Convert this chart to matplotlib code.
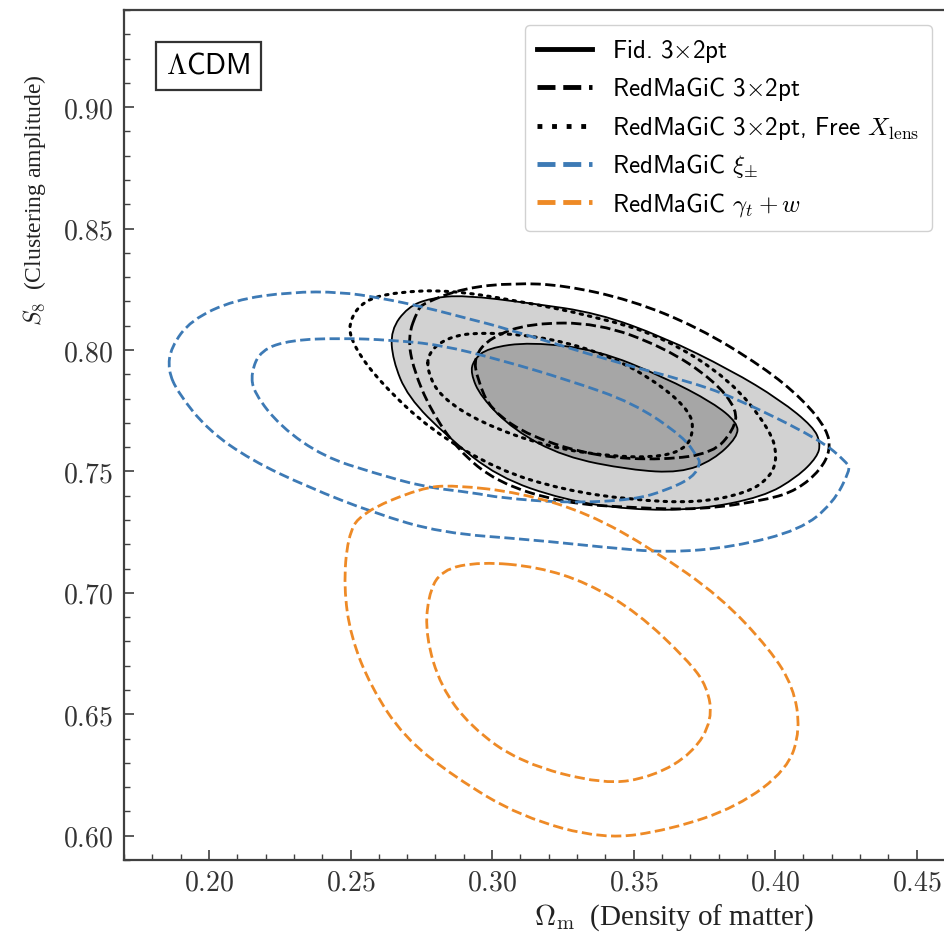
import numpy as np
import matplotlib
matplotlib.use("Agg")
import matplotlib.pyplot as plt
from matplotlib.lines import Line2D
from matplotlib.path import Path
from matplotlib.patches import PathPatch
from matplotlib.ticker import MultipleLocator

plt.rcParams['mathtext.fontset'] = 'cm'

# Contour outlines in (Omega_m, S8)
fid_outer_om = [0.2642, 0.2702, 0.2783, 0.2900, 0.3136, 0.3373, 0.3606, 0.3842, 0.4018, 0.4135, 0.4160,
                0.4149, 0.4078, 0.3958, 0.3725, 0.3489, 0.3253, 0.3020, 0.2843, 0.2702, 0.2649]
fid_outer_s8 = [0.8082, 0.8177, 0.8214, 0.8226, 0.8193, 0.8152, 0.8053, 0.7918, 0.7794, 0.7683, 0.7617,
                0.7560, 0.7477, 0.7395, 0.7342, 0.7342, 0.7383, 0.7477, 0.7642, 0.7807, 0.7959]
fid_inner_om = [0.2935, 0.2984, 0.3136, 0.3373, 0.3606, 0.3782, 0.3867, 0.3867, 0.3782, 0.3665, 0.3489,
                0.3253, 0.3076, 0.2960, 0.2924]
fid_inner_s8 = [0.7959, 0.8008, 0.8033, 0.8000, 0.7889, 0.7782, 0.7700, 0.7642, 0.7547, 0.7494, 0.7506,
                0.7560, 0.7671, 0.7807, 0.7905]

rm_outer_om = [0.2737, 0.2759, 0.2900, 0.3076, 0.3253, 0.3489, 0.3725, 0.3958, 0.4100, 0.4184, 0.4195,
               0.4160, 0.4078, 0.3972, 0.3736, 0.3500, 0.3253, 0.3020, 0.2879, 0.2783, 0.2723, 0.2702]
rm_outer_s8 = [0.8165, 0.8193, 0.8255, 0.8276, 0.8267, 0.8206, 0.8095, 0.7930, 0.7794, 0.7671, 0.7588,
               0.7506, 0.7424, 0.7383, 0.7342, 0.7350, 0.7370, 0.7453, 0.7588, 0.7753, 0.7918, 0.8053]
rm_inner_om = [0.2935, 0.2995, 0.3136, 0.3373, 0.3606, 0.3782, 0.3867, 0.3853, 0.3782, 0.3606, 0.3373,
               0.3136, 0.2995, 0.2949]
rm_inner_s8 = [0.7971, 0.8053, 0.8111, 0.8111, 0.8012, 0.7877, 0.7753, 0.7671, 0.7576, 0.7547, 0.7560,
               0.7642, 0.7753, 0.7877]

xl_outer_om = [0.2490, 0.2547, 0.2667, 0.2843, 0.3076, 0.3373, 0.3606, 0.3842, 0.3983, 0.4008, 0.3983,
               0.3902, 0.3725, 0.3489, 0.3253, 0.3020, 0.2783, 0.2607, 0.2512]
xl_outer_s8 = [0.8111, 0.8206, 0.8239, 0.8247, 0.8206, 0.8136, 0.8053, 0.7877, 0.7671, 0.7560, 0.7477,
               0.7412, 0.7370, 0.7383, 0.7424, 0.7506, 0.7671, 0.7864, 0.8012]
xl_inner_om = [0.2773, 0.2843, 0.2960, 0.3196, 0.3429, 0.3606, 0.3701, 0.3711, 0.3690, 0.3606, 0.3429,
               0.3196, 0.2960, 0.2819, 0.2773]
xl_inner_s8 = [0.7988, 0.8053, 0.8074, 0.8053, 0.7971, 0.7848, 0.7741, 0.7671, 0.7601, 0.7560, 0.7560,
               0.7601, 0.7700, 0.7807, 0.7905]

xi_outer_om = [0.1855, 0.1866, 0.1936, 0.2088, 0.2289, 0.2466, 0.2607, 0.2759, 0.2935, 0.3030, 0.3443,
               0.3676, 0.3853, 0.4160, 0.4255, 0.4265, 0.4205, 0.4089, 0.3853, 0.3620, 0.3383, 0.3147,
               0.2819, 0.2582, 0.2349, 0.2148, 0.1996, 0.1891]
xi_outer_s8 = [0.7918, 0.8012, 0.8123, 0.8206, 0.8239, 0.8239, 0.8214, 0.8177, 0.8123, 0.8095, 0.7947,
               0.7877, 0.7807, 0.7630, 0.7535, 0.7506, 0.7370, 0.7259, 0.7189, 0.7165, 0.7189, 0.7218,
               0.7247, 0.7329, 0.7436, 0.7547, 0.7671, 0.7823]
xi_inner_om = [0.2148, 0.2183, 0.2289, 0.2466, 0.2642, 0.2819, 0.3030, 0.3267, 0.3500, 0.3676, 0.3725,
               0.3736, 0.3711, 0.3620, 0.3500, 0.3267, 0.3030, 0.2935, 0.2759, 0.2582, 0.2406, 0.2254,
               0.2159]
xi_inner_s8 = [0.7905, 0.8000, 0.8041, 0.8049, 0.8041, 0.8021, 0.7959, 0.7877, 0.7782, 0.7642, 0.7560,
               0.7535, 0.7477, 0.7424, 0.7383, 0.7370, 0.7391, 0.7412, 0.7436, 0.7494, 0.7560, 0.7683,
               0.7823]

gw_outer_om = [0.2865, 0.2748, 0.2536, 0.2490, 0.2476, 0.2501, 0.2572, 0.2688, 0.2865, 0.3101, 0.3394,
               0.3630, 0.3867, 0.4043, 0.4089, 0.4064, 0.3983, 0.3807, 0.3570, 0.3337, 0.3101]
gw_outer_s8 = [0.7444, 0.7432, 0.7329, 0.7230, 0.7025, 0.6819, 0.6613, 0.6407, 0.6243, 0.6078, 0.5984,
               0.6025, 0.6119, 0.6272, 0.6436, 0.6613, 0.6765, 0.6984, 0.7177, 0.7329, 0.7412]
gw_inner_om = [0.2960, 0.2819, 0.2773, 0.2766, 0.2819, 0.2924, 0.3101, 0.3394, 0.3570, 0.3711, 0.3778,
               0.3761, 0.3690, 0.3514, 0.3337, 0.3161]
gw_inner_s8 = [0.7128, 0.7095, 0.6984, 0.6819, 0.6613, 0.6449, 0.6300, 0.6210, 0.6243, 0.6342, 0.6477,
               0.6613, 0.6724, 0.6918, 0.7041, 0.7107]

xticks = [0.20, 0.25, 0.30, 0.35, 0.40, 0.45]
yticks = [0.60, 0.65, 0.70, 0.75, 0.80, 0.85, 0.90]

labels = [r"Fid. 3$\times$2pt",
          r"RedMaGiC 3$\times$2pt",
          r"RedMaGiC 3$\times$2pt, Free $X_{\rm lens}$",
          r"RedMaGiC $\xi_{\pm}$",
          r"RedMaGiC $\gamma_t+w$"]

blue = '#3d7ab5'
orange = '#ee8a26'


def contour_path(om, s8):
    # closed quadratic b-spline through the outline points
    pts = np.column_stack([om, s8])
    mids = (pts + np.roll(pts, -1, axis=0)) / 2
    verts = [mids[-1]]
    codes = [Path.MOVETO]
    for p, m in zip(pts, mids):
        verts += [p, m]
        codes += [Path.CURVE3, Path.CURVE3]
    return Path(verts, codes)


def draw(ax, om, s8, **kw):
    ax.add_patch(PathPatch(contour_path(om, s8), **kw))


fig = plt.figure(figsize=(9.44, 9.38), dpi=100)
ax = fig.add_axes([0.1314, 0.0832, 0.8697, 0.9061])

# fiducial 3x2pt: filled 1 and 2 sigma regions
draw(ax, fid_outer_om, fid_outer_s8, fc='#d2d2d2', ec='black', lw=1.3, zorder=1)
draw(ax, fid_inner_om, fid_inner_s8, fc='#a6a6a6', ec='black', lw=1.3, zorder=2)

for om, s8 in [(rm_outer_om, rm_outer_s8), (rm_inner_om, rm_inner_s8)]:
    draw(ax, om, s8, fill=False, ec='black', lw=2.0, ls='--', zorder=4)
for om, s8 in [(xl_outer_om, xl_outer_s8), (xl_inner_om, xl_inner_s8)]:
    draw(ax, om, s8, fill=False, ec='black', lw=2.2, ls=(0, (0.8, 2.0)),
         capstyle='round', zorder=4)
for om, s8 in [(xi_outer_om, xi_outer_s8), (xi_inner_om, xi_inner_s8)]:
    draw(ax, om, s8, fill=False, ec=blue, lw=2.0, ls='--', zorder=5)
for om, s8 in [(gw_outer_om, gw_outer_s8), (gw_inner_om, gw_inner_s8)]:
    draw(ax, om, s8, fill=False, ec=orange, lw=2.0, ls='--', zorder=5)

ax.set_xlim(0.17, 0.46)
ax.set_ylim(0.59, 0.94)
ax.set_xticks(xticks)
ax.set_xticklabels(["$%.2f$" % v for v in xticks])
ax.set_yticks(yticks)
ax.set_yticklabels(["$%.2f$" % v for v in yticks])
ax.xaxis.set_minor_locator(MultipleLocator(0.01))
ax.yaxis.set_minor_locator(MultipleLocator(0.01))
ax.tick_params(which='both', direction='in', colors='#404040', labelcolor='#333333')
ax.tick_params(which='major', length=7, width=1.2, labelsize=20, pad=8)
ax.tick_params(axis='x', which='major', pad=6)
ax.tick_params(which='minor', length=4, width=1.0)
for s in ax.spines.values():
    s.set_color('#404040')
    s.set_linewidth(1.6)

handles = [Line2D([], [], color='black', lw=3.5),
           Line2D([], [], color='black', lw=3.5, ls='--'),
           Line2D([], [], color='black', lw=3.5, ls=(0, (1, 2))),
           Line2D([], [], color=blue, lw=3.5, ls='--'),
           Line2D([], [], color=orange, lw=3.5, ls='--')]
leg = ax.legend(handles, labels, loc='upper right', bbox_to_anchor=(0.999, 0.997),
                prop={'family': ['cmss10', 'DejaVu Sans'], 'size': 18},
                handlelength=2.2, handletextpad=0.8, labelspacing=0.42,
                borderpad=0.5, framealpha=0.9, edgecolor='#cccccc')

ax.text(0.051, 0.950, r"$\Lambda$CDM", transform=ax.transAxes, fontsize=21,
        family=['cmss10', 'DejaVu Sans'], va='top', ha='left',
        bbox=dict(boxstyle='square,pad=0.35', fc='white', ec='#333333', lw=1.6))

fig.text(674 / 944, 1 - 918 / 938, r"$\Omega_{\rm m}$  (Density of matter)",
         fontsize=21, family='Liberation Serif', ha='center', va='center', color='#222222')
fig.text(35 / 944, 1 - 200 / 938, r"$S_8$  (Clustering amplitude)",
         fontsize=17, family='Liberation Serif', rotation=90, ha='center', va='center',
         color='#222222')

fig.savefig('out.png', dpi=100)
